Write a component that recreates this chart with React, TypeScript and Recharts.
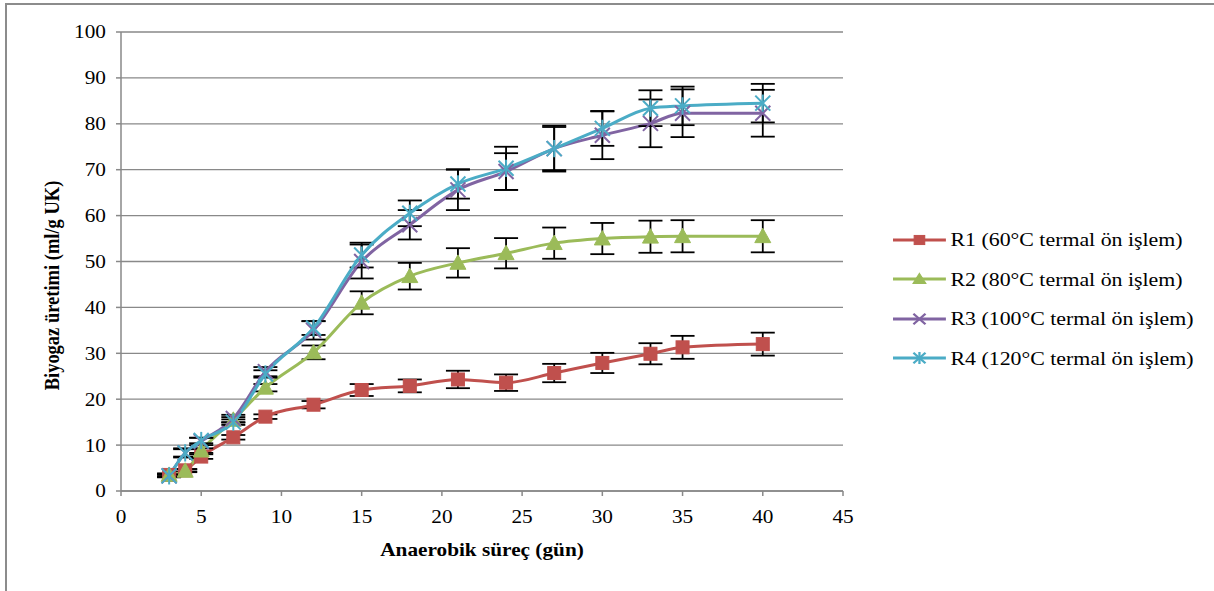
import React from 'react';
import { ComposedChart, Line, XAxis, YAxis, CartesianGrid, ErrorBar, Legend, Label } from 'recharts';

const days = [3, 4, 5, 7, 9, 12, 15, 18, 21, 24, 27, 30, 33, 35, 40];
const r1 = [3.5, 4.5, 7.5, 11.7, 16.2, 18.8, 22.0, 22.9, 24.3, 23.6, 25.7, 27.9, 29.9, 31.3, 32.0];
const r1Err = [0.3, 0.3, 0.5, 0.5, 0.5, 0.8, 1.3, 1.4, 1.9, 1.8, 2.0, 2.2, 2.3, 2.5, 2.5];
const r2 = [3.5, 4.4, 8.8, 15.5, 22.5, 30.2, 41.0, 46.8, 49.7, 51.8, 54.0, 55.0, 55.4, 55.5, 55.5];
const r2Err = [0.3, 0.3, 0.5, 0.6, 0.8, 1.5, 2.5, 2.9, 3.2, 3.3, 3.4, 3.4, 3.5, 3.5, 3.5];
const r3 = [3.3, 8.3, 10.8, 15.8, 26.0, 35.0, 50.0, 58.0, 65.6, 69.6, 74.6, 77.5, 80.1, 82.3, 82.3];
const r3Err = [0.3, 1.0, 0.8, 0.8, 1.0, 2.0, 3.7, 3.2, 4.4, 4.0, 4.7, 5.2, 5.2, 5.2, 5.1];
const r4 = [3.3, 8.3, 11.0, 15.0, 25.5, 35.5, 51.4, 60.5, 66.9, 70.3, 74.6, 79.0, 83.4, 83.9, 84.5];
const r4Err = [0.3, 0.8, 0.6, 0.6, 0.8, 1.5, 2.7, 2.8, 3.2, 4.7, 5.0, 3.8, 3.9, 4.2, 4.2];

const xTicks = [0, 5, 10, 15, 20, 25, 30, 35, 40, 45];
const yTicks = [0, 10, 20, 30, 40, 50, 60, 70, 80, 90, 100];

const seriesNames = [
  'R1 (60°C termal ön işlem)',
  'R2 (80°C termal ön işlem)',
  'R3 (100°C termal ön işlem)',
  'R4 (120°C termal ön işlem)',
];
const seriesColors = ['#C0504D', '#9BBB59', '#8064A2', '#4BACC6'];
const xTitle = 'Anaerobik süreç (gün)';
const yTitle = 'Biyogaz üretimi (ml/g UK)';

const data = days.map((d, i) => ({
  day: d,
  r1: r1[i], r1e: r1Err[i],
  r2: r2[i], r2e: r2Err[i],
  r3: r3[i], r3e: r3Err[i],
  r4: r4[i], r4e: r4Err[i],
}));

const FONT = '"Liberation Serif", "Times New Roman", serif';
const SX = 1.15;
const FS = 18.5;
const GRID = '#898989';

type MarkerKind = 'square' | 'triangle' | 'x' | 'star';
const markerKinds: MarkerKind[] = ['square', 'triangle', 'x', 'star'];

function Marker({ kind, cx, cy, color, s = 1 }: { kind: MarkerKind; cx: number; cy: number; color: string; s?: number }) {
  if (kind === 'square') {
    const h = 6.5 * s;
    return <rect x={cx - h} y={cy - h} width={2 * h} height={2 * h} fill={color} stroke={color} strokeWidth={1} />;
  }
  if (kind === 'triangle') {
    const h = 8 * s;
    return (
      <polygon
        points={`${cx},${cy - h} ${cx + h},${cy + h * 0.8} ${cx - h},${cy + h * 0.8}`}
        fill={color}
        stroke={color}
        strokeWidth={1}
      />
    );
  }
  const h = 7.5 * s;
  return (
    <g stroke={color} strokeWidth={2}>
      <line x1={cx - h} y1={cy - h} x2={cx + h} y2={cy + h} />
      <line x1={cx - h} y1={cy + h} x2={cx + h} y2={cy - h} />
      {kind === 'star' && <line x1={cx} y1={cy - h * 1.15} x2={cx} y2={cy + h * 1.15} />}
    </g>
  );
}

const makeDot = (kind: MarkerKind, color: string) => (props: any) => {
  const { cx, cy, index } = props;
  if (cx == null || cy == null) return <g key={`d-${index}`} />;
  return (
    <g key={`d-${kind}-${index}`}>
      <Marker kind={kind} cx={cx} cy={cy} color={color} />
    </g>
  );
};

const YTick = (props: any) => {
  const { x, y, payload } = props;
  return (
    <g transform={`translate(${x},${y}) scale(${SX},1)`}>
      <text x={0} y={0} dy="0.35em" textAnchor="end" fontFamily={FONT} fontSize={FS} fill="#000">
        {payload.value}
      </text>
    </g>
  );
};

const XTick = (props: any) => {
  const { x, y, payload } = props;
  return (
    <g transform={`translate(${x},${y}) scale(${SX},1)`}>
      <text x={0} y={0} dy="0.71em" textAnchor="middle" fontFamily={FONT} fontSize={FS} fill="#000">
        {payload.value}
      </text>
    </g>
  );
};

const XTitle = (props: any) => {
  const vb = props.viewBox || {};
  const cx = (vb.x || 0) + (vb.width || 0) / 2;
  const cy = (vb.y || 0) + 59;
  return (
    <g transform={`translate(${cx},${cy}) scale(${SX},1)`}>
      <text x={0} y={0} dy="0.35em" textAnchor="middle" fontFamily={FONT} fontSize={FS} fontWeight="bold" fill="#000">
        {xTitle}
      </text>
    </g>
  );
};

const YTitle = (props: any) => {
  const vb = props.viewBox || {};
  const cx = 52;
  const cy = (vb.y || 0) + (vb.height || 0) / 2 + 24;
  return (
    <g transform={`translate(${cx},${cy}) scale(${SX},1) rotate(-90)`}>
      <text x={0} y={0} dy="0.35em" textAnchor="middle" fontFamily={FONT} fontSize={FS} fontWeight="bold" fill="#000">
        {yTitle}
      </text>
    </g>
  );
};

const LegendContent = () => (
  <div style={{ fontFamily: FONT, fontSize: 19, color: '#000', transform: `scaleX(${SX})`, transformOrigin: 'left top', whiteSpace: 'nowrap' }}>
    {seriesNames.map((name, i) => (
      <div key={name} style={{ display: 'flex', alignItems: 'center', height: 39.5 }}>
        <svg width={46} height={20} style={{ display: 'block' }}>
          <line x1={0} y1={10} x2={46} y2={10} stroke={seriesColors[i]} strokeWidth={3} />
          <Marker kind={markerKinds[i]} cx={23} cy={10} color={seriesColors[i]} s={0.7} />
        </svg>
        <span style={{ marginLeft: 4, lineHeight: 1 }}>{name}</span>
      </div>
    ))}
  </div>
);

const keys = ['r1', 'r2', 'r3', 'r4'];

export default function App() {
  return (
    <div style={{ position: 'absolute', left: 0, top: 0, width: 1214, height: 591, background: '#fff' }}>
      <div
        style={{
          position: 'absolute',
          left: 5,
          top: 3,
          width: 1214,
          height: 600,
          borderTop: '2px solid #8c8c8c',
          borderLeft: '2px solid #8c8c8c',
          boxSizing: 'border-box',
        }}
      />
      <div style={{ position: 'absolute', left: 0, top: 0 }}>
        <ComposedChart width={1214} height={591} data={data} margin={{ top: 32, right: 371, bottom: 0, left: 0 }}>
          <CartesianGrid horizontal vertical={false} stroke={GRID} strokeWidth={1.3} />
          <XAxis
            dataKey="day"
            type="number"
            domain={[0, 45]}
            ticks={xTicks}
            height={100}
            stroke={GRID}
            strokeWidth={1.5}
            tickSize={5}
            tickMargin={14}
            tick={<XTick />}
            interval={0}
          >
            <Label content={<XTitle />} />
          </XAxis>
          <YAxis
            type="number"
            domain={[0, 100]}
            ticks={yTicks}
            width={121}
            stroke={GRID}
            strokeWidth={1.5}
            tickSize={5}
            tickMargin={10}
            tick={<YTick />}
            interval={0}
          >
            <Label content={<YTitle />} />
          </YAxis>
          {keys.map((k, i) => (
            <Line
              key={k}
              type="monotone"
              dataKey={k}
              name={seriesNames[i]}
              stroke={seriesColors[i]}
              strokeWidth={3}
              dot={makeDot(markerKinds[i], seriesColors[i])}
              activeDot={false}
              isAnimationActive={false}
            >
              <ErrorBar dataKey={`${k}e`} width={12} stroke="#000" strokeWidth={1.8} direction="y" isAnimationActive={false} />
            </Line>
          ))}
          <Legend
            layout="vertical"
            align="center"
            verticalAlign="middle"
            content={<LegendContent />}
            wrapperStyle={{ position: 'absolute', left: 893, top: 220, width: 320, height: 160 }}
          />
        </ComposedChart>
      </div>
    </div>
  );
}
